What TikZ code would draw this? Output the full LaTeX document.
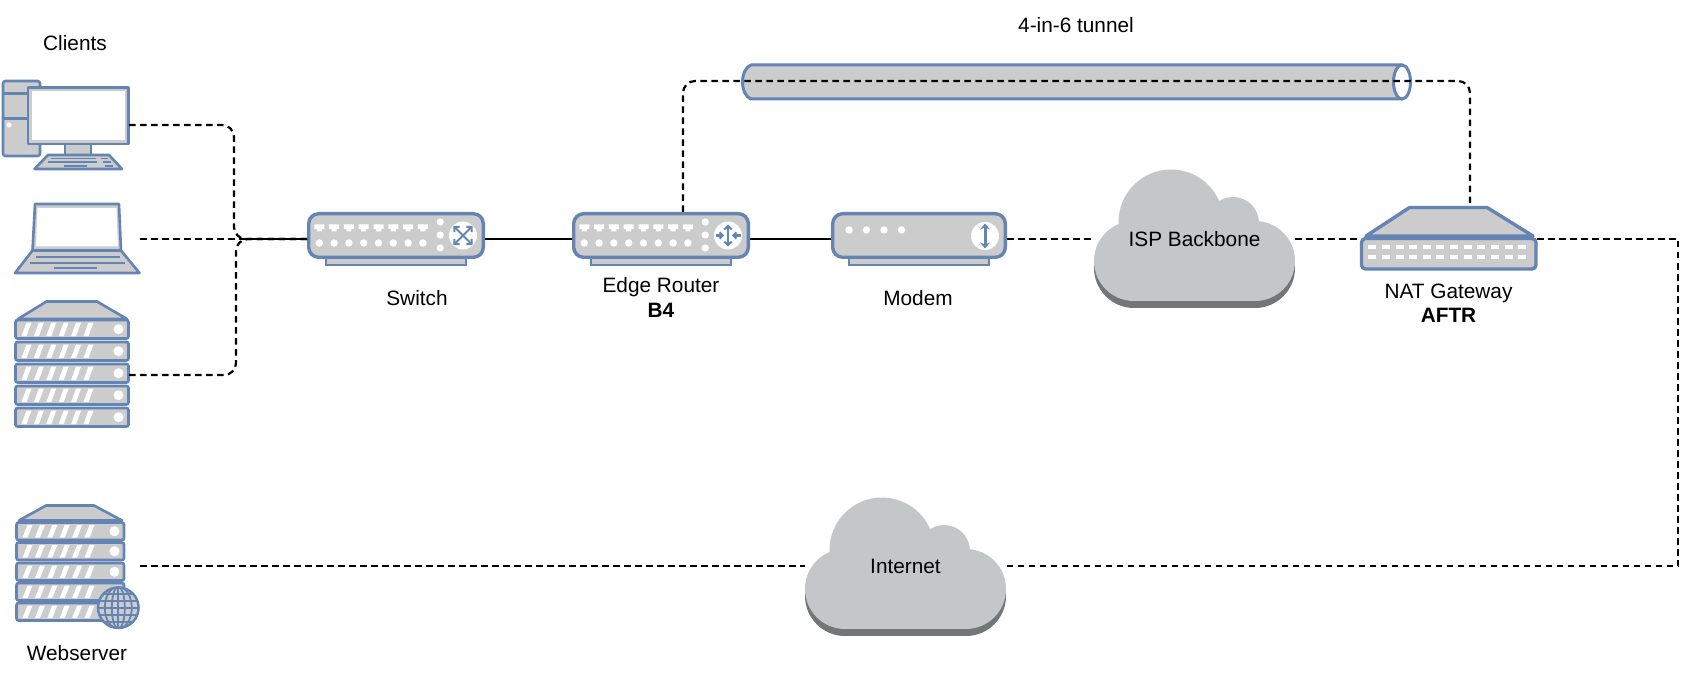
\documentclass[tikz,border=0pt]{standalone}
\usepackage{fontspec}
\setmainfont{Liberation Sans}
\usetikzlibrary{arrows.meta,calc}
\definecolor{blueline}{HTML}{6484B3}
\definecolor{devfill}{HTML}{CCCCCC}
\definecolor{cloudtop}{HTML}{C5C6C8}
\definecolor{cloudside}{HTML}{737577}
\tikzset{
  dev/.style={draw=blueline,fill=devfill,line width=2.6pt,line join=round},
  devthick/.style={draw=blueline,fill=devfill,line width=3.4pt,line join=round},
  bluestroke/.style={draw=blueline,line width=1.8pt},
  anchorbox/.style={inner sep=0pt,outer sep=0pt,draw=none},
  label/.style={align=center,inner sep=0pt,font=\fontsize{20.8}{24.5}\selectfont,text=black},
  dashline/.style={draw=black,line width=2.2pt,dash pattern=on 6.5pt off 4.5pt},
  solidline/.style={draw=black,line width=2.2pt},
  barb/.style={draw=blueline,line width=2.1pt,{Straight Barb[length=3.5pt,width=7.5pt]}-{Straight Barb[length=3.5pt,width=7.5pt]}},
}
% front panel with ports (origin = top-left of the body)
\newcommand{\panelbody}{%
  \draw[dev,line join=miter] (19,46) rectangle (159,53);
  \draw[devthick,rounded corners=10pt] (1.7,1.7) rectangle (176.3,45.3);
  \foreach \i in {0,...,7}{
    \fill[white] ({12.3+14.8*\i-5},12.5) -- ++(10,0) -- ++(0,4.5) -- ++(-2.5,0) -- ++(0,2.5) -- ++(-5,0) -- ++(0,-2.5) -- ++(-2.5,0) -- cycle;
    \fill[white] ({12.3+14.8*\i},31) circle (3.7);
  }
  \foreach \y in {10,23,36}{\fill[white] (133.2,\y) circle (3.6);}
  \fill[white] (156,23.5) circle (14);
}
\newcommand{\rackrow}[5]{% y, x0, width, height, dot x
  \draw[dev,rounded corners=2pt] (#2,#1) rectangle ++(#3,#4);
  \foreach \i in {0,...,5}{
    \fill[white] ({#2+6+12.4*\i},{#1+#4-2.5}) -- ++(5,0) -- ++(5,{-(#4-5)}) -- ++(-5,0) -- cycle;
  }
  \fill[white] (#5,{#1+#4/2}) circle (5);
}
\newcommand{\cloudshape}[2]{% dx, dy
  \begin{scope}[shift={(#1,#2)}]
    \fill[cloudside] (1134,268) circle (40);
    \fill[cloudside] (1255,268) circle (40);
    \fill[cloudside] (1134,250) rectangle (1255,308);
    \fill[cloudtop] (1134,261) circle (40);
    \fill[cloudtop] (1255,261) circle (40);
    \fill[cloudtop] (1134,240) rectangle (1255,301);
    \fill[cloudtop] (1171,222) circle (52.5);
    \fill[cloudtop] (1233,223) circle (26);
  \end{scope}
}
\begin{document}
\begin{tikzpicture}[x=1pt,y=-1pt]
\useasboundingbox (0,0) rectangle (1704,676);
\fill[white] (0,0) rectangle (1704,676);

% ---- anchors of the devices
\node[anchorbox,minimum width=127pt,minimum height=89pt] (pc) at (65.5,125) {};
\node[anchorbox,minimum width=126pt,minimum height=69pt] (lap) at (77,239) {};
\node[anchorbox,minimum width=114pt,minimum height=126pt] (srv) at (72,364) {};
\node[anchorbox,minimum width=124pt,minimum height=124pt] (web) at (78,566) {};
\node[anchorbox,minimum width=178pt,minimum height=54pt] (sw) at (396,239) {};
\node[anchorbox,minimum width=178pt,minimum height=54pt] (rt) at (661,239) {};
\node[anchorbox,minimum width=176pt,minimum height=54pt] (mod) at (919,239) {};
\node[anchorbox,minimum width=177pt,minimum height=63pt] (nat) at (1448.5,239) {};

% ---- desktop
\draw[dev,rounded corners=2.5pt] (3,81) rectangle (40,156);
\draw[dev] (3,93.5) -- (40,93.5) (3,118.5) -- (40,118.5);
\fill[white] (9,125) circle (2.6);
\draw[dev] (65,144) rectangle (91,155);
\draw[dev] (34.5,169) -- (122,169) -- (109,155) -- (48,155) -- cycle;
\draw[dev] (28,87.5) rectangle (128.5,144);
\fill[white] (31.5,91) rectangle (124.5,140.5);
\foreach \a/\b/\c in {51/96/158.5,101/108/158.5,48/97/162,103/111/162,64/87/166,105/113/166}
  \draw[bluestroke] (\a,\c) -- (\b,\c);

% ---- laptop
\draw[dev] (15,273) -- (139.5,273) -- (121,250.5) -- (32.5,250.5) -- cycle;
\draw[dev] (32.5,250.5) -- (121,250.5) -- (119,204) -- (35,204) -- cycle;
\fill[white] (37.5,208) -- (116.5,208) -- (118,246.5) -- (36,246.5) -- cycle;
\foreach \a/\b/\c in {36/120/256.7,30/125/262.7,54/97/268}
  \draw[bluestroke] (\a,\c) -- (\b,\c);

% ---- server rack
\draw[dev] (18,319) -- (46.5,301.5) -- (97,301.5) -- (127,319) -- cycle;
\foreach \y in {320,342,364,386,408} {\rackrow{\y}{15.5}{113}{18.5}{118.5}}

% ---- web server
\draw[dev] (19,520.5) -- (46,505.5) -- (94,505.5) -- (122,520.5) -- cycle;
\foreach \y in {522.5,542.5,563,583,603} {\rackrow{\y}{16.5}{107.5}{17.5}{114.5}}
\fill[devfill] (118.3,607.7) circle (21);
\begin{scope}
  \clip (118.3,607.7) circle (21);
  \foreach \dy in {-14,-7,0,7,14}
    \draw[bluestroke] (90,607.7+\dy) -- (146,607.7+\dy);
  \draw[bluestroke] (118.3,585) -- (118.3,630);
  \draw[bluestroke] (118.3,607.7) ellipse (6.5 and 21);
  \draw[bluestroke] (118.3,607.7) ellipse (13.5 and 21);
\end{scope}
\draw[blueline,line width=2.4pt] (118.3,607.7) circle (20.3);

% ---- switch
\begin{scope}[shift={(307,212)}]
  \panelbody
  \draw[barb] (146.5,14) -- (165.5,33);
  \draw[barb] (165.5,14) -- (146.5,33);
\end{scope}

% ---- router
\begin{scope}[shift={(572,212)}]
  \panelbody
  \draw[barb] (156,12.5) -- (156,34.5);
  \draw[bluestroke,line width=2.1pt,-{Straight Barb[length=3pt,width=6.5pt]}] (143.5,23.5) -- (152,23.5);
  \draw[bluestroke,line width=2.1pt,-{Straight Barb[length=3pt,width=6.5pt]}] (168.5,23.5) -- (160,23.5);
\end{scope}

% ---- modem
\draw[dev,line join=miter] (849,258) rectangle (989,265);
\draw[devthick,rounded corners=10pt] (832.7,213.7) rectangle (1005.3,257.3);
\foreach \x in {849,866.5,884,901.5} {\fill[white] (\x,230) circle (3.7);}
\fill[white] (985,236) circle (14);
\draw[blueline,line width=3pt,{Stealth[length=6pt,width=10pt]}-{Stealth[length=6pt,width=10pt]}] (985,223.5) -- (985,248.5);

% ---- NAT gateway
\draw[devthick] (1366,236) -- (1409.5,207.5) -- (1487,207.5) -- (1533,236) -- cycle;
\draw[devthick,rounded corners=4pt] (1361.5,238.5) rectangle (1536,269);
\foreach \i in {0,...,11}{
  \fill[white] ({1372.3+13.62*\i-4},244.8) rectangle ++(8,4.4);
  \fill[white] ({1372.3+13.62*\i-4},254.8) rectangle ++(8,4.4);
}

% ---- tunnel
\draw[dev,line width=3pt] (1402,65) -- (751,65) .. controls (746,66.5) and (742.5,74) .. (742.5,82) .. controls (742.5,90) and (746,97.5) .. (751,99) -- (1402,99);
\draw[draw=blueline,fill=white,line width=3pt] (1402,82) ellipse (8.5 and 17);

% ---- clouds (with their labels)
\cloudshape{0}{0}
\cloudshape{-289}{328}
\node[anchorbox,label,minimum width=201pt,minimum height=138pt] (isp) at (1194.5,239) {\raisebox{-1pt}{ISP Backbone}};
\node[anchorbox,label,minimum width=201pt,minimum height=138pt] (inet) at (905.5,566) {\raisebox{-1pt}{Internet}};

% ---- connector waypoints
\coordinate (busA) at (234,239);
\coordinate (busB) at (236,239);
\coordinate (srvE) at (129,375);
\coordinate (rtUp) at (683,212);
\coordinate (natUp) at (1470,207);
\coordinate (tunL) at (900,81);
\coordinate (farR) at (1678,400);

% ---- connectors
\draw[dashline,rounded corners=12pt] (pc.east) -| (busA) -- (sw.west);
\draw[dashline] (lap.east) -- (sw.west);
\draw[dashline,rounded corners=12pt] (srvE) -| (busB) -- (sw.west);
\draw[solidline] (sw.east) -- (rt.west);
\draw[solidline] (rt.east) -- (mod.west);
\draw[dashline] (mod.east) -- (isp.west);
\draw[dashline] (isp.east) -- (nat.west);
\draw[dashline,rounded corners=12pt] (rtUp) |- (tunL) -| (natUp);
\draw[dashline] (nat.east) -| (farR) |- (inet.east);
\draw[dashline] (web.east) -- (inet.west);

% ---- labels
\node[label] (lblclients) at (75,43) {Clients};
\node[label] (lblweb) at (77,653.5) {Webserver};
\node[label] (lblsw) at (417,298) {Switch};
\node[label] (lblrt) at (661,297.7) {Edge Router\\\textbf{B4}};
\node[label] (lblmod) at (918,298) {Modem};
\node[label] (lblnat) at (1448.5,303) {NAT Gateway\\\textbf{AFTR}};
\node[label] (lbltun) at (1076,25) {4-in-6 tunnel};
\end{tikzpicture}
\end{document}
